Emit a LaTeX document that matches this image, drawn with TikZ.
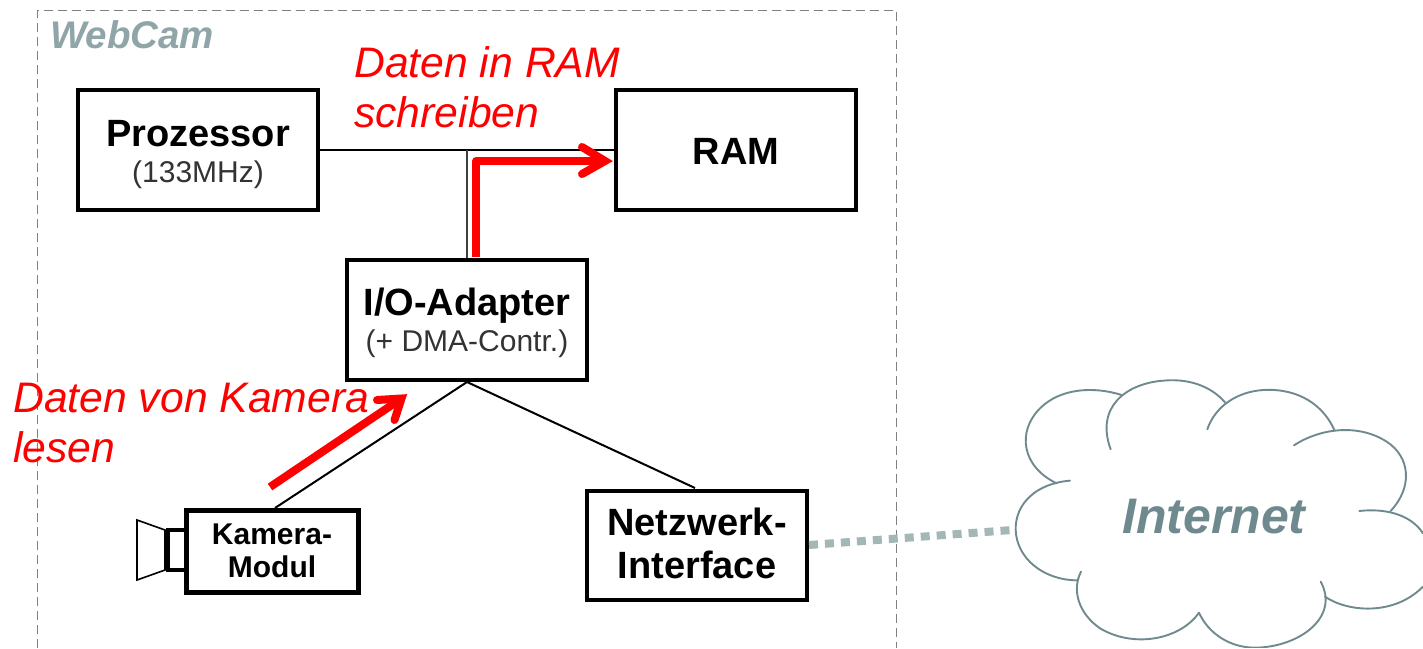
\documentclass[tikz,border=0pt]{standalone}
\usepackage{fontspec}
\setmainfont{Liberation Sans}
\usetikzlibrary{arrows.meta}
\definecolor{cloudline}{HTML}{6F8A8E}
\definecolor{webgrey}{HTML}{8FA5A8}
\definecolor{linkgrey}{HTML}{A3B7B7}
\definecolor{subgrey}{HTML}{333333}
\newcommand{\subt}[1]{{\fontsize{30}{36}\selectfont\mdseries\color{subgrey} #1}}
\tikzset{
  unit/.style={draw=black,line width=4pt,fill=white,inner sep=0pt,align=center,minimum width=#1},
  wire/.style={draw=black,line width=2pt},
  redtext/.style={anchor=base west,inner sep=0pt,text=red,font=\fontsize{42.7}{50}\selectfont\itshape},
  redarrow/.style={draw=red,line width=7.5pt,line cap=butt,line join=round},
  redbarb/.style={draw=red,line width=8pt,line cap=round,line join=miter,miter limit=10},
  cloudstroke/.style={draw=cloudline,line width=1.9pt,line cap=round}
}
\begin{document}
\begin{tikzpicture}[x=1pt,y=-1pt]
\useasboundingbox (0,0) rectangle (1423,648);
% frame
\coordinate (fa) at (37.5,648); \coordinate (fb) at (37.5,10); \coordinate (fc) at (896,10); \coordinate (fd) at (896,648);
\draw[draw=black!50,line width=1pt,dash pattern=on 9pt off 5pt] (fa)--(fb)--(fc)--(fd);
\node[anchor=base west,inner sep=0pt,text=webgrey,font=\fontsize{38.5}{44}\selectfont\bfseries\itshape] (web) at (50,48) {WebCam};
% boxes
\node[unit=240pt,minimum height=120pt,font=\fontsize{38}{36}\selectfont\bfseries] (cpu) at (198,150) {\rule{0pt}{36pt}Prozessor\\\subt{(133MHz)}};
\node[unit=240pt,minimum height=120pt,font=\fontsize{38}{36}\selectfont\bfseries] (ram) at (736,150) {\rule{0pt}{29pt}RAM};
\node[unit=240pt,minimum height=120pt,font=\fontsize{38}{36}\selectfont\bfseries] (io) at (467,320) {\rule{0pt}{34pt}I/O-Adapter\\\subt{(+ DMA-Contr.)}};
\node[unit=172pt,minimum height=82pt,line width=5pt,font=\fontsize{30}{33}\selectfont\bfseries] (cam) at (272,551) {Kamera-\\Modul};
\node[unit=220pt,minimum height=109pt,font=\fontsize{38}{43}\selectfont\bfseries] (net) at (697,545.5) {Netzwerk-\\Interface\rule[-5pt]{0pt}{5pt}};
% wires
\draw[wire] (cpu.east) -- (ram.west);
\coordinate (bus) at (467,150);
\draw[wire,draw=black!75] (bus) -- (io.north);
\coordinate (camtop) at (275,508);
\coordinate (nettop) at (695,488);
\draw[wire] (io.south) -- (camtop);
\draw[wire] (io.south) -- (nettop);
% camera icon
\coordinate (lensa) at (137,520); \coordinate (lensb) at (165,530); \coordinate (lensc) at (165,570); \coordinate (lensd) at (137,580);
\draw[black,line width=1.6pt,line join=miter] (lensa)--(lensb)--(lensc)--(lensd)--cycle;
\coordinate (necka) at (185,530); \coordinate (neckb) at (168,530); \coordinate (neckc) at (168,570); \coordinate (neckd) at (185,570);
\draw[black,line width=4pt] (necka)--(neckb)--(neckc)--(neckd);
% link to cloud
\coordinate (cloudw) at (1012,530);
\draw[linkgrey,line width=8pt,dash pattern=on 9pt off 7pt] (net.east |- 0,545) -- (cloudw);
% red arrows
\coordinate (ra) at (476,257); \coordinate (rb) at (476,161); \coordinate (rc) at (605,161);
\coordinate (rd) at (582,147); \coordinate (re) at (582,174);
\draw[redarrow] (ra) -- (rb) -- (rc);
\draw[redbarb] (rd) -- (rc) -- (re);
\coordinate (ca) at (270,487); \coordinate (cb) at (401.5,398.5);
\coordinate (cc) at (377,400); \coordinate (cd) at (394.5,420);
\draw[redarrow,line width=8pt] (ca) -- (cb);
\draw[redbarb] (cc) -- (cb) -- (cd);
\node[redtext] (t1) at (354,77) {Daten in RAM};
\node[redtext] (t2) at (354,127) {schreiben};
\node[redtext] (t3) at (13,412) {Daten von Kamera};
\node[redtext] (t4) at (13,462) {lesen};
% cloud
\begin{scope}[shift={(1000,370)},x=0.3333pt,y=-0.3333pt]
\clip (-10,-10) rectangle (1269,834);
\draw[cloudstroke] (365,75) .. controls (280,48) and (180,55) .. (120,115) .. controls (50,185) and (65,290) .. (170,340);
\draw[cloudstroke] (210,332) .. controls (110,340) and (45,400) .. (47,480) .. controls (50,565) and (130,630) .. (230,631);
\draw[cloudstroke] (243,605) .. controls (215,660) and (235,730) .. (300,775) .. controls (400,835) and (540,810) .. (597,728);
\draw[cloudstroke] (597,728) .. controls (625,790) and (690,835) .. (770,833) .. controls (900,830) and (1020,740) .. (962,635);
\draw[cloudstroke] (975,680) .. controls (1040,725) and (1180,740) .. (1269,650);
\draw[cloudstroke] (1078,423) .. controls (1150,415) and (1230,430) .. (1269,490);
\draw[cloudstroke] (1172,423) .. controls (1240,350) and (1230,260) .. (1160,215) .. controls (1075,160) and (960,175) .. (882,226);
\draw[cloudstroke] (1003,180) .. controls (960,85) and (870,55) .. (790,60) .. controls (710,65) and (645,110) .. (622,178);
\draw[cloudstroke] (675,97) .. controls (630,45) and (560,25) .. (490,32) .. controls (380,40) and (285,110) .. (332,238);
\end{scope}
\node[anchor=base west,inner sep=0pt,text=cloudline,font=\fontsize{50}{56}\selectfont\bfseries\itshape] (inet) at (1122,533) {Internet};
\end{tikzpicture}
\end{document}
